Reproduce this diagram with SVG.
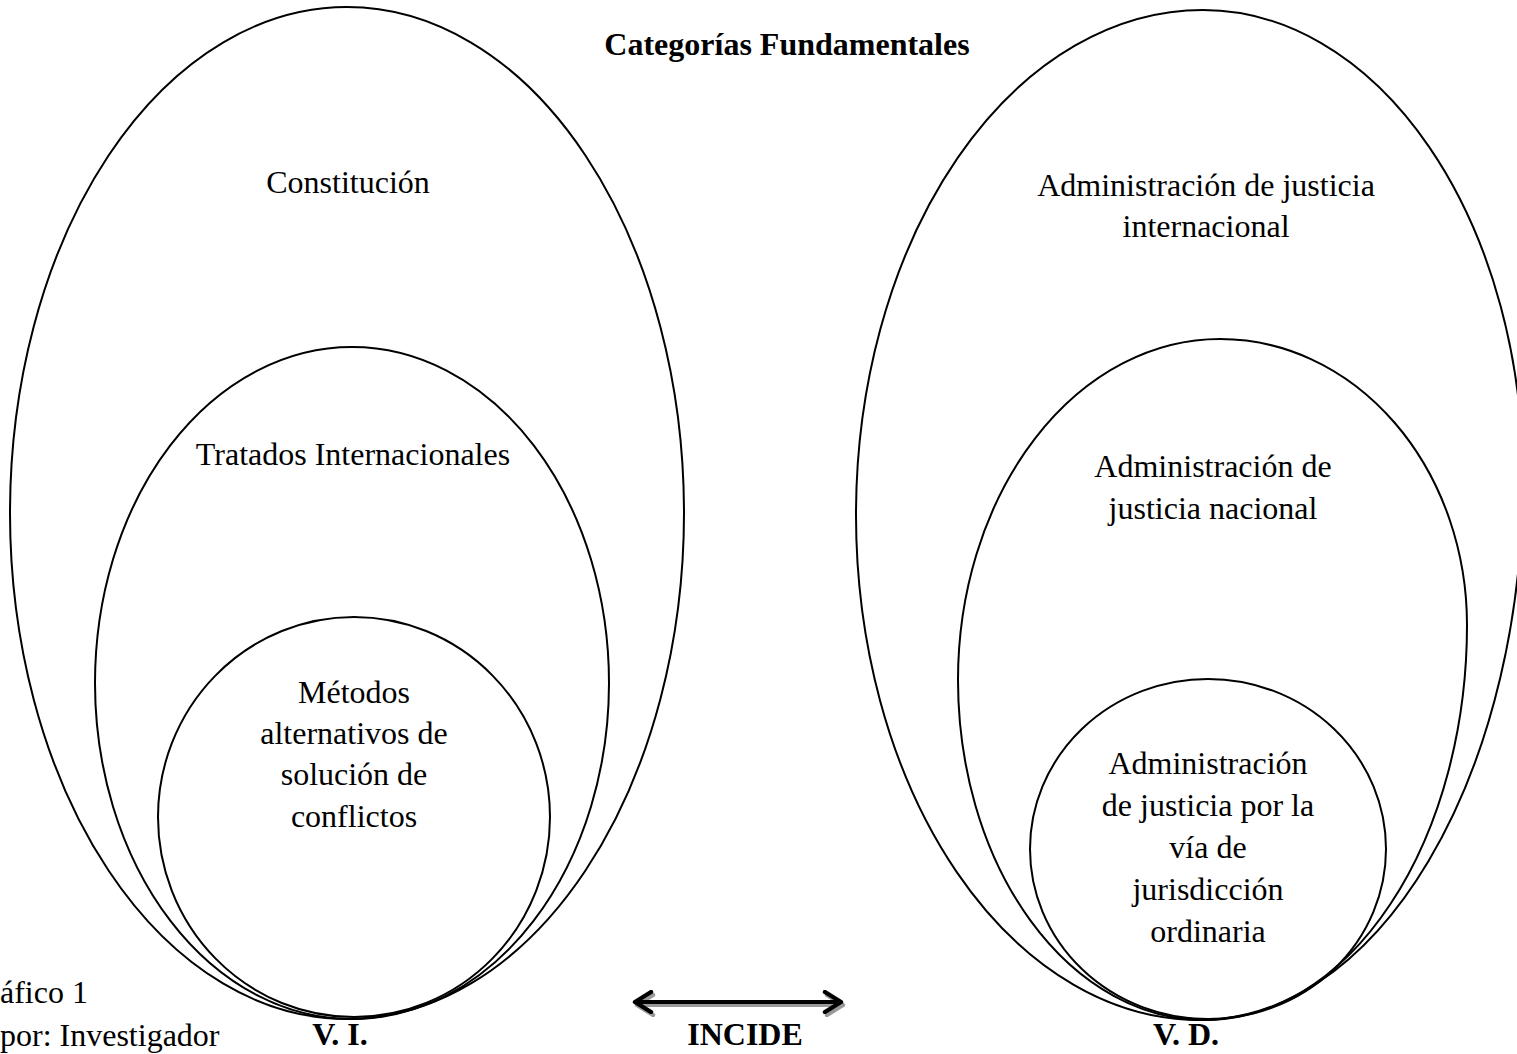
<svg xmlns="http://www.w3.org/2000/svg" width="1517" height="1054" viewBox="0 0 1517 1054">
<style>
.e{fill:none;stroke:#000;stroke-width:2}
text{font-family:"Liberation Serif","Times New Roman",serif;font-size:32px;fill:#000}
.c{text-anchor:middle}
.b{font-weight:bold}
</style>
<defs>
<marker id="ahk" viewBox="0 0 12 12" refX="10" refY="6" markerWidth="6" markerHeight="6" orient="auto-start-reverse" markerUnits="strokeWidth">
<path d="M2,1 L10,6 L2,11" fill="none" stroke="#000" stroke-width="2.2" stroke-linecap="round" stroke-linejoin="round"/>
</marker>
<marker id="ahg" viewBox="0 0 12 12" refX="10" refY="6" markerWidth="6" markerHeight="6" orient="auto-start-reverse" markerUnits="strokeWidth">
<path d="M2,1 L10,6 L2,11" fill="none" stroke="#999" stroke-width="2.2" stroke-linecap="round" stroke-linejoin="round"/>
</marker>
</defs>
<rect width="1517" height="1054" fill="#fff"/>
<text class="c b" x="787" y="55">Categorías Fundamentales</text>
<g id="vi-constitucion">
<ellipse class="e" cx="347" cy="513" rx="337" ry="506"/>
<text class="c" x="348" y="193">Constitución</text>
</g>
<g id="vi-tratados">
<ellipse class="e" cx="352" cy="683" rx="257" ry="336"/>
<text class="c" x="353" y="465">Tratados Internacionales</text>
</g>
<g id="vi-metodos">
<ellipse class="e" cx="354" cy="817" rx="196" ry="200"/>
<text class="c" x="354" y="703">Métodos</text>
<text class="c" x="354" y="744">alternativos de</text>
<text class="c" x="354" y="785">solución de</text>
<text class="c" x="354" y="827">conflictos</text>
</g>
<g id="vd-internacional">
<path class="e" d="M1203,10 A320,468 0 0 1 1523,478 A323,542 0 0 1 1200,1020 A344,505 0 0 1 856,515 A347,505 0 0 1 1203,10 Z"/>
<text class="c" x="1206" y="196">Administración de justicia</text>
<text class="c" x="1206" y="237">internacional</text>
</g>
<g id="vd-nacional">
<path class="e" d="M1220,339 A247,286 0 0 1 1467,625 A262,395 0 0 1 1205,1020 A247,340 0 0 1 958,680 A262,341 0 0 1 1220,339 Z"/>
<text class="c" x="1213" y="477">Administración de</text>
<text class="c" x="1213" y="519">justicia nacional</text>
</g>
<g id="vd-ordinaria">
<ellipse class="e" cx="1208" cy="849" rx="178" ry="170"/>
<text class="c" x="1208" y="774">Administración</text>
<text class="c" x="1208" y="816">de justicia por la</text>
<text class="c" x="1208" y="858">vía de</text>
<text class="c" x="1208" y="900">jurisdicción</text>
<text class="c" x="1208" y="942">ordinaria</text>
</g>
<g id="connectors">
<line x1="637" y1="1005" x2="843" y2="1005" stroke="#999" stroke-width="4" marker-start="url(#ahg)" marker-end="url(#ahg)"/>
<line x1="635" y1="1002" x2="841" y2="1002" stroke="#000" stroke-width="4" marker-start="url(#ahk)" marker-end="url(#ahk)"/>
</g>
<text class="c b" x="340" y="1045">V. I.</text>
<text class="c b" x="745" y="1045">INCIDE</text>
<text class="c b" x="1186" y="1045">V. D.</text>
<text x="0" y="1003">áfico 1</text>
<text x="0" y="1046">por: Investigador</text>
</svg>
